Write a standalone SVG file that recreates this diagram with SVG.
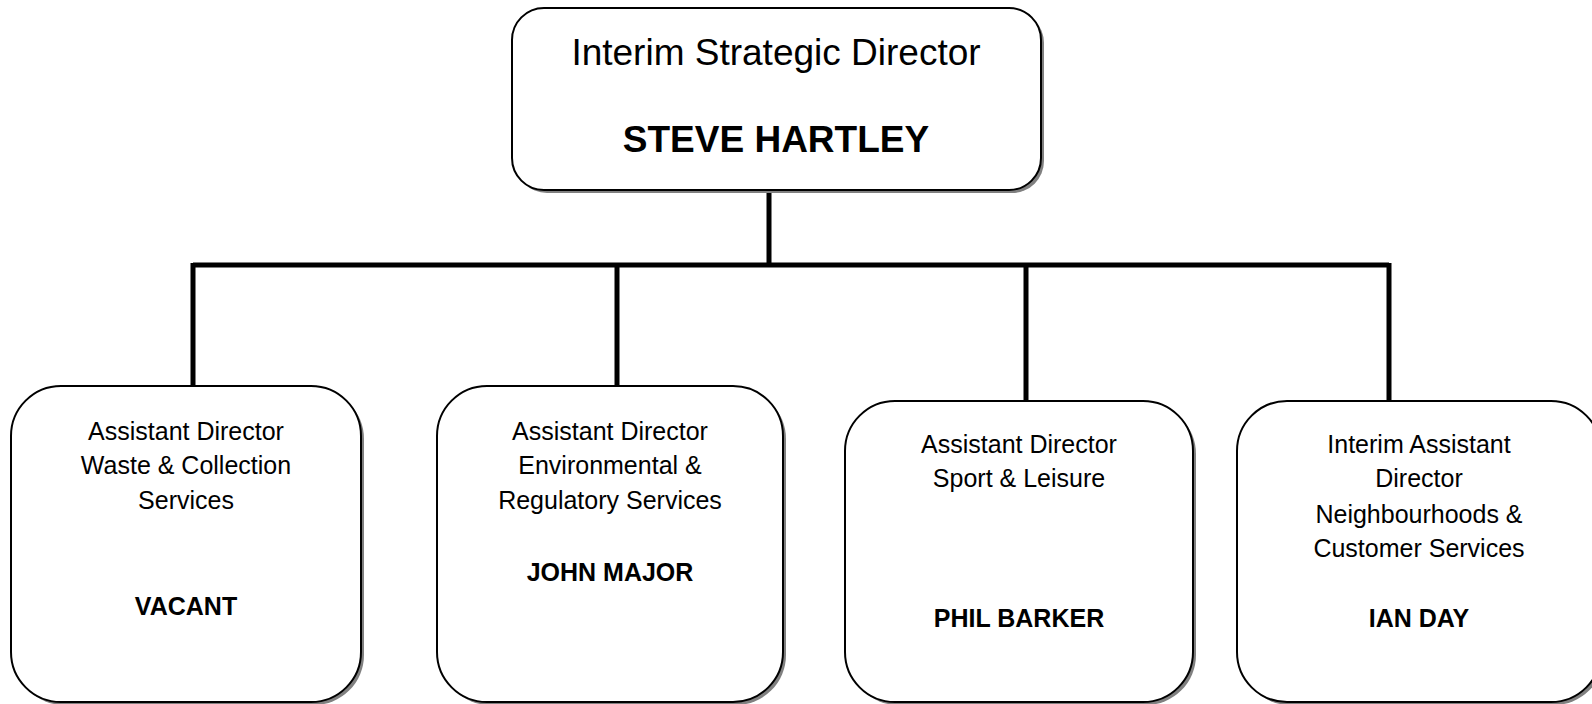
<svg xmlns="http://www.w3.org/2000/svg" width="1592" height="704" viewBox="0 0 1592 704">
<style>
.box{fill:#fff;stroke:#000;stroke-width:2}
.sh{fill:#808080}
.t{font-family:"Liberation Sans",Arial,sans-serif;font-size:25px;fill:#000;text-anchor:middle}
.b{font-weight:bold}
.big{font-size:37px}
.con{stroke:#000;stroke-width:5;fill:none}
</style>
<rect width="1592" height="704" fill="#fff"/>
<g id="connectors">
<path class="con" d="M769 190V265M193 265H1389M193 263V386M617 263V386M1026 263V401M1389 263V401"/>
</g>
<g id="n0">
<rect class="sh" x="515" y="11" width="529" height="182" rx="32"/>
<rect class="box" x="512" y="8" width="529" height="182" rx="32"/>
<text class="t big" x="776" y="65">Interim Strategic Director</text>
<text class="t big b" x="776" y="152">STEVE HARTLEY</text>
</g>
<g id="n1">
<rect class="sh" x="14" y="389" width="350" height="316" rx="50"/>
<rect class="box" x="11" y="386" width="350" height="316" rx="50"/>
<text class="t" x="186" y="440">Assistant Director</text>
<text class="t" x="186" y="474">Waste &amp; Collection</text>
<text class="t" x="186" y="509">Services</text>
<text class="t b" x="186" y="615">VACANT</text>
</g>
<g id="n2">
<rect class="sh" x="440" y="389" width="346" height="316" rx="50"/>
<rect class="box" x="437" y="386" width="346" height="316" rx="50"/>
<text class="t" x="610" y="440">Assistant Director</text>
<text class="t" x="610" y="474">Environmental &amp;</text>
<text class="t" x="610" y="509">Regulatory Services</text>
<text class="t b" x="610" y="581">JOHN MAJOR</text>
</g>
<g id="n3">
<rect class="sh" x="848" y="404" width="348" height="301" rx="50"/>
<rect class="box" x="845" y="401" width="348" height="301" rx="50"/>
<text class="t" x="1019" y="453">Assistant Director</text>
<text class="t" x="1019" y="487">Sport &amp; Leisure</text>
<text class="t b" x="1019" y="627">PHIL BARKER</text>
</g>
<g id="n4">
<rect class="sh" x="1240" y="404" width="364" height="301" rx="50"/>
<rect class="box" x="1237" y="401" width="364" height="301" rx="50"/>
<text class="t" x="1419" y="453">Interim Assistant</text>
<text class="t" x="1419" y="487">Director</text>
<text class="t" x="1419" y="523">Neighbourhoods &amp;</text>
<text class="t" x="1419" y="557">Customer Services</text>
<text class="t b" x="1419" y="627">IAN DAY</text>
</g>
</svg>
